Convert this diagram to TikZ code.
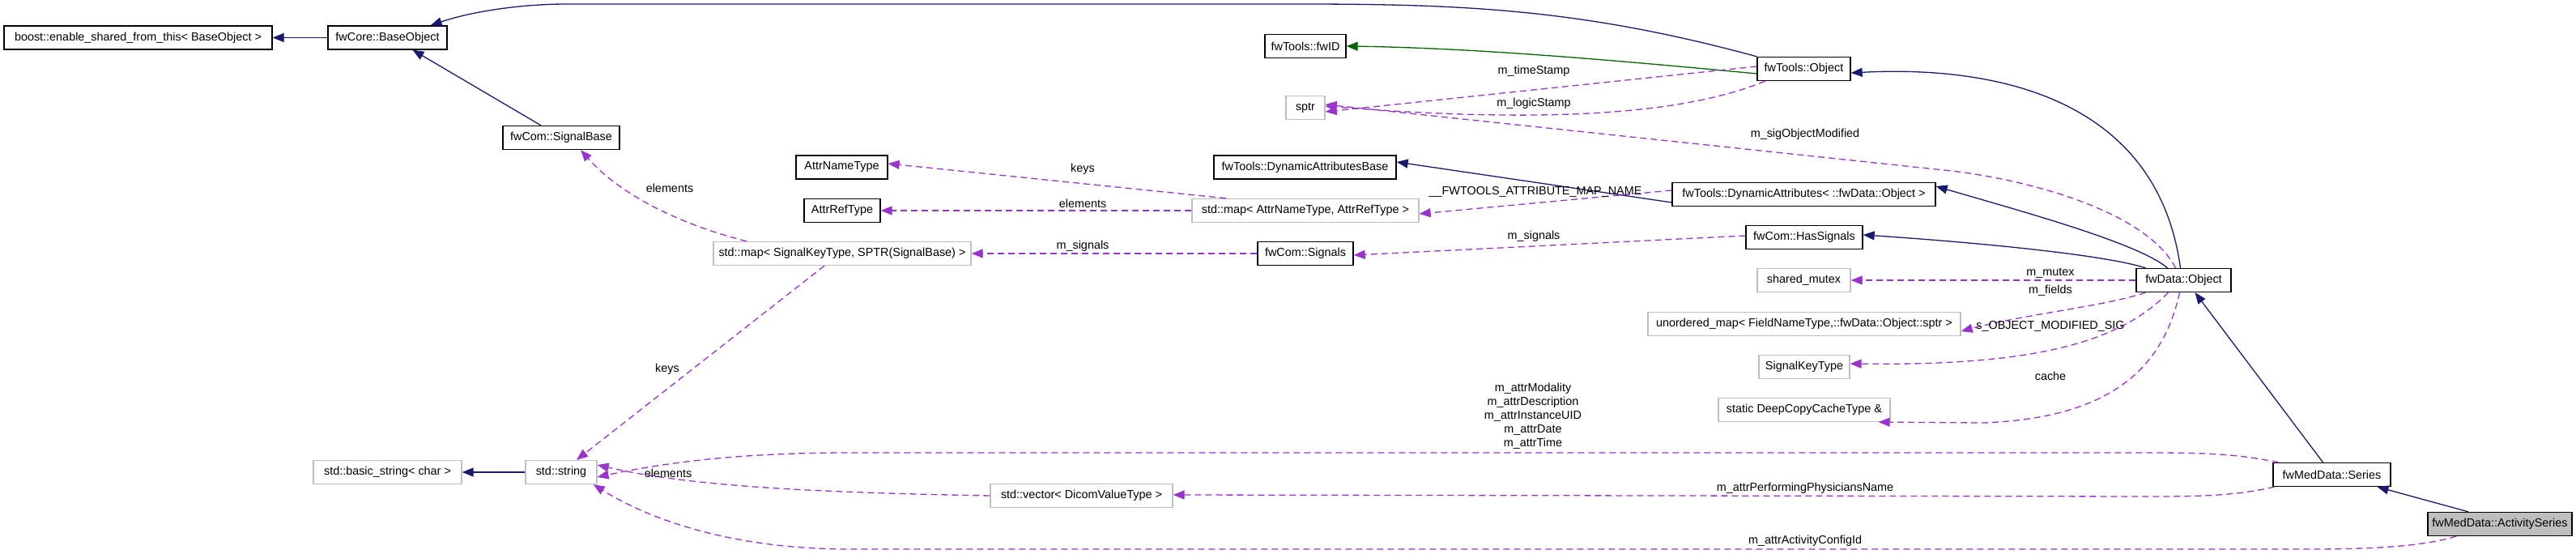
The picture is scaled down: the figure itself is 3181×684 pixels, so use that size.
\documentclass[tikz,border=0pt]{standalone}
\usepackage{fontspec}
\setmainfont{Liberation Sans}
\usetikzlibrary{arrows.meta}
\definecolor{inhblue}{HTML}{191970}
\definecolor{usegreen}{HTML}{006400}
\definecolor{depcol}{HTML}{9A32CD}
\definecolor{undoc}{HTML}{BFBFBF}
\begin{document}
\begin{tikzpicture}[x=1pt,y=-1pt,
  box/.style={draw=black, line width=1.3pt, minimum height=29pt, inner sep=0pt, font=\fontsize{14.4}{17}\selectfont, fill=white},
  ubox/.style={box, draw=undoc},
  cbox/.style={box, fill=undoc},
  inh/.style={draw=inhblue, line width=1.3pt, -{Triangle[length=14pt,width=11pt]}},
  usel/.style={draw=usegreen, line width=1.3pt, -{Triangle[length=14pt,width=11pt]}},
  depl/.style={draw=depcol, line width=1.3pt, dash pattern=on 8pt off 5pt, -{Triangle[length=14pt,width=11pt]}},
  lbl/.style={font=\fontsize{14.4}{17}\selectfont, inner sep=0pt, align=center}]
\useasboundingbox (0,0) rectangle (3181,684);
% nodes
\node[box, minimum width=331pt] (boost) at (170.5,46.5) {boost::enable\_shared\_from\_this< BaseObject >};
\node[box, minimum width=147pt] (BaseObject) at (478.5,46.5) {fwCore::BaseObject};
\node[box, minimum width=144pt] (SignalBase) at (693,170) {fwCom::SignalBase};
\node[box, minimum width=113pt] (AttrNameType) at (1039.5,206.5) {AttrNameType};
\node[box, minimum width=94pt] (AttrRefType) at (1040,260) {AttrRefType};
\node[ubox, minimum width=318pt] (mapSig) at (1040,313) {std::map< SignalKeyType, SPTR(SignalBase) >};
\node[box, minimum width=100pt] (fwID) at (1612,57) {fwTools::fwID};
\node[ubox, minimum width=48pt] (sptr) at (1612,133) {sptr};
\node[box, minimum width=225pt] (DynAttrBase) at (1611.5,206.5) {fwTools::DynamicAttributesBase};
\node[ubox, minimum width=280pt] (mapAttr) at (1612,260) {std::map< AttrNameType, AttrRefType >};
\node[box, minimum width=118pt] (Signals) at (1612,313) {fwCom::Signals};
\node[box, minimum width=115pt] (ToolsObject) at (2227.5,85) {fwTools::Object};
\node[box, minimum width=325pt] (DynAttr) at (2227.5,240) {fwTools::DynamicAttributes< ::fwData::Object >};
\node[box, minimum width=144pt] (HasSignals) at (2228,293) {fwCom::HasSignals};
\node[ubox, minimum width=115pt] (mutex) at (2227.5,346) {shared\_mutex};
\node[box, minimum width=117pt] (DataObject) at (2696.5,346) {fwData::Object};
\node[ubox, minimum width=386pt] (umap) at (2228,400) {unordered\_map< FieldNameType,::fwData::Object::sptr >};
\node[ubox, minimum width=112pt] (SigKey) at (2228,453) {SignalKeyType};
\node[ubox, minimum width=212pt] (DeepCopy) at (2228,506) {static DeepCopyCacheType \&};
\node[ubox, minimum width=183pt] (basicstr) at (478.5,583) {std::basic\_string< char >};
\node[ubox, minimum width=88pt] (stdstr) at (693,583) {std::string};
\node[ubox, minimum width=225pt] (vec) at (1335.5,612) {std::vector< DicomValueType >};
\node[box, minimum width=145pt] (Series) at (2879.5,586) {fwMedData::Series};
\node[cbox, minimum width=178pt] (Activity) at (3087,647) {fwMedData::ActivitySeries};
% inheritance
\draw[inh] (BaseObject.west) -- (boost.east);
\draw[inh] ([xshift=-25pt]SignalBase.north) -- ([xshift=31pt]BaseObject.south);
\draw[inh] (ToolsObject.north west) .. controls (1950,10) and (1800,5) .. (1600,5) -- (700,5) .. controls (640,5) and (580,15) .. ([xshift=-21pt]BaseObject.north east);
\draw[inh] ([xshift=-4pt]DataObject.north) .. controls (2665,130) and (2480,80) .. ([yshift=-5pt]ToolsObject.east);
\draw[inh] ([xshift=-20pt]DataObject.north) .. controls (2640,300) and (2500,262) .. ([yshift=10pt]DynAttr.east);
\draw[inh] ([xshift=-47pt]DataObject.north) .. controls (2600,315) and (2450,300) .. ([yshift=3pt]HasSignals.east);
\draw[inh] ([yshift=-10pt]DynAttr.west) -- ([yshift=6.5pt]DynAttrBase.east);
\draw[inh] ([xshift=-11pt]Series.north) -- ([xshift=14pt]DataObject.south);
\draw[inh] ([xshift=-39pt]Activity.north) -- ([xshift=56pt]Series.south);
\draw[inh] (stdstr.west) -- (basicstr.east);
\draw[usel] ([yshift=-6pt]ToolsObject.west) .. controls (1950,70) and (1800,59) .. (fwID.east);
% usage (dashed)
\draw[depl] ([yshift=3pt]ToolsObject.west) -- ([yshift=-5pt]sptr.east);
\draw[depl] ([xshift=-48pt]ToolsObject.south) .. controls (2060,150) and (1850,148) .. ([yshift=2pt]sptr.east);
\draw[depl] ([xshift=-10pt]DataObject.north) .. controls (2650,260) and (2500,220) .. (2400,210) -- ([yshift=4pt]sptr.east);
\draw[depl] ([xshift=-98pt]mapAttr.north) -- ([yshift=4.5pt]AttrNameType.east);
\draw[depl] (mapAttr.west) -- (AttrRefType.east);
\draw[depl] ([yshift=5pt]DynAttr.west) -- ([yshift=-4pt]mapAttr.east);
\draw[depl] (Signals.west) -- (mapSig.east);
\draw[depl] ([xshift=-118pt]mapSig.north) .. controls (850,280) and (770,245) .. ([xshift=24pt]SignalBase.south);
\draw[depl] ([yshift=2pt]HasSignals.west) -- ([yshift=-2pt]Signals.east);
\draw[depl] (DataObject.west) -- (mutex.east);
\draw[depl] ([xshift=-47pt]DataObject.south) .. controls (2600,378) and (2500,388) .. ([yshift=-9pt]umap.east);
\draw[depl] ([xshift=-19pt]DataObject.south) .. controls (2620,420) and (2520,452) .. ([yshift=4pt]SigKey.east);
\draw[depl] ([xshift=-5pt]DataObject.south) .. controls (2670,460) and (2600,516) .. (2450,522) -- ([xshift=-15pt]DeepCopy.south east);
\draw[depl] ([xshift=-22pt]mapSig.south) -- ([xshift=19pt]stdstr.north);
\draw[depl] ([xshift=-66pt]Series.north) .. controls (2760,560) and (2720,559) .. (2650,559) -- (1050,559) .. controls (950,559) and (850,565) .. ([yshift=-6pt]stdstr.east);
\draw[depl] (vec.west) .. controls (1000,608) and (850,600) .. ([yshift=9pt]stdstr.east);
\draw[depl] ([xshift=-71pt]Series.south) .. controls (2760,612) and (2720,613) .. (2650,613) -- ([yshift=1pt]vec.east);
\draw[depl] ([xshift=-54pt]Activity.south) .. controls (2990,675) and (2930,678) .. (2850,678) -- (1050,678) .. controls (900,678) and (800,640) .. ([xshift=-5pt]stdstr.south east);
% labels
\node[lbl] (lTime) at (1894,88) {m\_timeStamp};
\node[lbl] (lLogic) at (1894,128) {m\_logicStamp};
\node[lbl] (lSigMod) at (2229,166) {m\_sigObjectModified};
\node[lbl] (lKeys1) at (1337,209) {keys};
\node[lbl] (lElem1) at (1337,251) {elements};
\node[lbl] (lFw) at (1896,237) {\_\_FWTOOLS\_ATTRIBUTE\_MAP\_NAME};
\node[lbl] (lSig1) at (1337,304) {m\_signals};
\node[lbl] (lElem2) at (827,232) {elements};
\node[lbl] (lSig2) at (1894,292) {m\_signals};
\node[lbl] (lMutex) at (2532,337) {m\_mutex};
\node[lbl] (lFields) at (2532,359) {m\_fields};
\node[lbl] (lSOM) at (2532,403) {s\_OBJECT\_MODIFIED\_SIG};
\node[lbl] (lCache) at (2532,464) {cache};
\node[lbl] (lKeys2) at (824,456) {keys};
\node[lbl] (lAttr) at (1893,514) {m\_attrModality\\m\_attrDescription\\m\_attrInstanceUID\\m\_attrDate\\m\_attrTime};
\node[lbl] (lElem3) at (825,584) {elements};
\node[lbl] (lPhys) at (2229,603) {m\_attrPerformingPhysiciansName};
\node[lbl] (lConf) at (2229,668) {m\_attrActivityConfigId};
\end{tikzpicture}
\end{document}
